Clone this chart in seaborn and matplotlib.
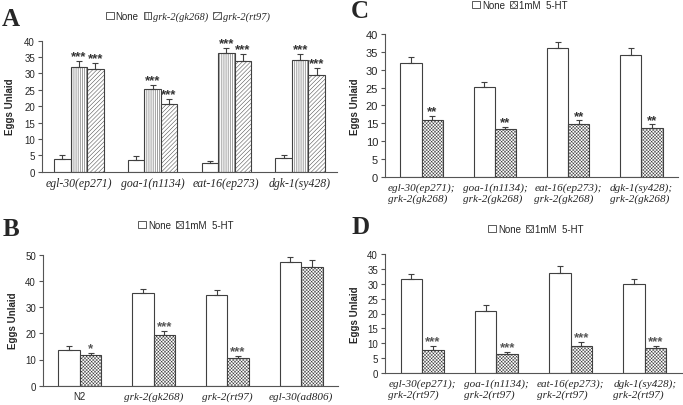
import matplotlib
matplotlib.use("Agg")
import matplotlib.pyplot as plt
from matplotlib.patches import Patch
import seaborn as sns
import pandas as pd

# ---- data ----
a_strains = ["egl-30(ep271)", "goa-1(n1134)", "eat-16(ep273)", "dgk-1(sy428)"]
a_groups = ["None", "grk-2(gk268)", "grk-2(rt97)"]
a_none = [4.0, 3.6, 2.8, 4.3]
a_gk268 = [32.1, 25.1, 36.1, 34.1]
a_rt97 = [31.5, 20.7, 33.7, 29.6]
a_none_err = [1.0, 1.1, 0.6, 0.7]
a_gk268_err = [1.6, 1.4, 1.7, 1.9]
a_rt97_err = [1.7, 1.5, 2.2, 2.0]
a_stars = [["", "", "", ""], ["***"] * 4, ["***"] * 4]

b_strains = ["N2", "grk-2(gk268)", "grk-2(rt97)", "egl-30(ad806)"]
b_none = [13.6, 35.4, 34.5, 47.2]
b_ht = [11.7, 19.4, 10.5, 45.3]
b_none_err = [1.6, 1.5, 1.9, 1.8]
b_ht_err = [0.7, 1.6, 0.9, 2.7]
b_stars = [["", "", "", ""], ["*", "***", "***", ""]]

c_strains = ["egl-30(ep271);\ngrk-2(gk268)", "goa-1(n1134);\ngrk-2(gk268)",
             "eat-16(ep273);\ngrk-2(gk268)", "dgk-1(sy428);\ngrk-2(gk268)"]
c_none = [31.9, 25.2, 36.0, 34.0]
c_ht = [15.9, 13.5, 14.7, 13.6]
c_none_err = [1.7, 1.3, 1.8, 2.0]
c_ht_err = [1.2, 0.4, 1.1, 1.1]
c_stars = [["", "", "", ""], ["**"] * 4]

d_strains = ["egl-30(ep271);\ngrk-2(rt97)", "goa-1(n1134);\ngrk-2(rt97)",
             "eat-16(ep273);\ngrk-2(rt97)", "dgk-1(sy428);\ngrk-2(rt97)"]
d_none = [31.6, 20.7, 33.5, 29.9]
d_ht = [7.7, 6.3, 9.0, 8.4]
d_none_err = [1.7, 2.2, 2.6, 1.8]
d_ht_err = [1.3, 0.9, 1.3, 0.7]
d_stars = [["", "", "", ""], ["***"] * 4]

ht_groups = ["None", "1mM  5-HT"]

sns.set_style("white")
plt.rcParams["font.family"] = ["Liberation Sans", "DejaVu Sans"]
plt.rcParams["hatch.linewidth"] = 0.35

W, H = 683, 406
fig = plt.figure(figsize=(W / 100, H / 100), dpi=100)


def box(l, r, t, b):
    return [l / W, 1 - b / H, (r - l) / W, (b - t) / H]


EDGE = "#404040"
SERIF_IT = dict(family="Liberation Serif", style="italic")
DOTS = "xxxxxxxxxx"


def draw_panel(ax, strains, groups, values, errs, stars, width, hatches,
               ymax, step, tick_fs, xlab_fs, star_col):
    rows = []
    for g, vals in zip(groups, values):
        for s, v in zip(strains, vals):
            rows.append({"strain": s, "group": g, "value": v})
    df = pd.DataFrame(rows)
    sns.barplot(data=df, x="strain", y="value", hue="group", order=strains,
                hue_order=groups, width=width, errorbar=None, legend=False,
                ax=ax, edgecolor=EDGE, linewidth=0.8)
    bar_conts = list(ax.containers)
    for i, cont in enumerate(bar_conts):
        for j, bar in enumerate(cont.patches):
            bar.set_facecolor("white")
            bar.set_hatch(hatches[i])
            x = bar.get_x() + bar.get_width() / 2
            top = bar.get_height()
            ax.errorbar(x, top, yerr=[[0], [errs[i][j]]], fmt="none",
                        ecolor=EDGE, elinewidth=0.8, capsize=2.5,
                        capthick=0.8)
            if stars[i][j]:
                ax.text(x, top + errs[i][j] - ymax * 0.01, stars[i][j],
                        ha="center", va="bottom", fontsize=9.5,
                        fontweight="bold", color=star_col)
    ax.set_ylim(0, ymax)
    ax.set_yticks(range(0, ymax + 1, step))
    ax.set_xlim(-0.5, len(strains) - 0.5)
    ax.set_xlabel("")
    ax.set_ylabel("Eggs Unlaid", fontsize=7, fontweight="bold")
    sns.despine(ax=ax)
    for sp in ("left", "bottom"):
        ax.spines[sp].set_color("#555555")
        ax.spines[sp].set_linewidth(0.8)
    ax.tick_params(axis="y", length=3, width=0.8, color="#555555",
                   labelsize=tick_fs, pad=2, direction="out", left=True)
    ax.tick_params(axis="x", length=0, pad=4)
    ax.set_xticks(range(len(strains)))
    ax.set_xticklabels(strains, fontsize=xlab_fs, linespacing=1.2,
                       multialignment="left", **SERIF_IT)


# ---- panel A ----
axA = fig.add_axes(box(42, 337, 41.7, 172.7))
draw_panel(axA, a_strains, a_groups, [a_none, a_gk268, a_rt97],
           [a_none_err, a_gk268_err, a_rt97_err], a_stars, 0.67,
           ["", "||||||||", "////////"], 40, 5, 7, 8.5, "#333333")
axA.yaxis.set_label_coords(-0.09, 0.5)

# ---- panel B ----
axB = fig.add_axes(box(43, 338, 255.7, 386.7))
draw_panel(axB, b_strains, ht_groups, [b_none, b_ht], [b_none_err, b_ht_err],
           b_stars, 0.58, ["", DOTS], 50, 10, 7, 8, "#555555")
axB.get_xticklabels()[0].set(family="Liberation Sans", style="normal",
                             fontsize=7)
axB.yaxis.set_label_coords(-0.085, 0.5)

# ---- panel C ----
axC = fig.add_axes(box(385, 678, 35, 177.7))
draw_panel(axC, c_strains, ht_groups, [c_none, c_ht], [c_none_err, c_ht_err],
           c_stars, 0.58, ["", DOTS], 40, 5, 8, 8, "#333333")
axC.yaxis.set_label_coords(-0.085, 0.5)

# ---- panel D ----
axD = fig.add_axes(box(385, 682, 255, 374))
draw_panel(axD, d_strains, ht_groups, [d_none, d_ht], [d_none_err, d_ht_err],
           d_stars, 0.58, ["", DOTS], 40, 5, 7, 8, "#555555")
axD.yaxis.set_label_coords(-0.085, 0.5)


# ---- legends ----
def add_legend(labels, hatches, cx, cy, italic):
    handles = [Patch(facecolor="white", edgecolor=EDGE, hatch=h, linewidth=0.6)
               for h in hatches]
    leg = fig.legend(handles, labels, loc="center",
                     bbox_to_anchor=(cx / W, 1 - cy / H), ncol=len(labels),
                     frameon=False, fontsize=7, handlelength=0.8,
                     handleheight=0.8, handletextpad=0.2, columnspacing=0.5,
                     borderpad=0)
    for t, it in zip(leg.get_texts(), italic):
        if it:
            t.set(family="Liberation Serif", style="italic", fontsize=7.5)
    return leg


add_legend(a_groups, ["", "||||||", "//////"], 188, 17, [False, True, True])
add_legend(ht_groups, ["", "xxxxxx"], 186, 226, [False, False])
add_legend(ht_groups, ["", "xxxxxx"], 520, 6, [False, False])
add_legend(ht_groups, ["", "xxxxxx"], 536, 230, [False, False])

# ---- panel letters ----
for letter, x, y in [("A", 2, 19), ("B", 3, 230), ("C", 351, 11), ("D", 352, 228)]:
    fig.text(x / W, 1 - y / H, letter, fontsize=18, fontweight="bold",
             family="Liberation Serif", va="center", ha="left")

fig.savefig("out.png", dpi=100)
